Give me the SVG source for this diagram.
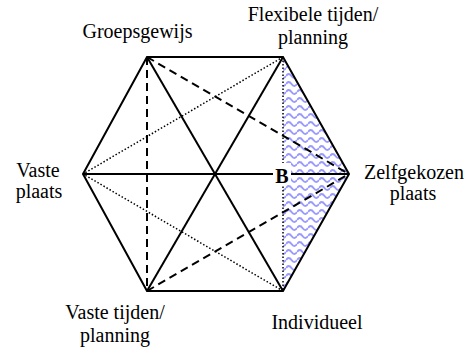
<svg xmlns="http://www.w3.org/2000/svg" width="465" height="350" viewBox="0 0 465 350">
<style>
.lbl{font-family:'Liberation Serif','Times New Roman',Times,'DejaVu Serif',serif;font-size:20px;fill:#000;text-anchor:middle}
.solid{stroke:#000;stroke-width:2;fill:none}
.dash{stroke:#000;stroke-width:2;fill:none;stroke-dasharray:8 5}
.dot{stroke:#000;stroke-width:1.5;fill:none;stroke-dasharray:1.5 2}
</style>
<defs>
<pattern id="wave" patternUnits="userSpaceOnUse" width="11" height="8">
<path d="M0 4 Q2.75 0 5.5 4 T11 4" stroke="#9a9aff" stroke-width="2" fill="none"/>
</pattern>
</defs>
<rect width="465" height="350" fill="#fff"/>
<g id="area">
<polygon points="283,57 349,174 283,291" fill="url(#wave)"/>
</g>
<g id="connectors">
<polygon class="solid" points="147,57 283,57 349,174 283,291 147,291 83,174"/>
<line class="solid" x1="83" y1="174" x2="349" y2="174"/>
<line class="solid" x1="147" y1="57" x2="283" y2="291"/>
<line class="solid" x1="283" y1="57" x2="147" y2="291"/>
<line class="dash" x1="147" y1="57" x2="147" y2="291"/>
<line class="dash" x1="147" y1="57" x2="349" y2="174"/>
<line class="dash" x1="147" y1="291" x2="349" y2="174"/>
<line class="dot" x1="283" y1="57" x2="83" y2="174"/>
<line class="dot" x1="283" y1="291" x2="83" y2="174"/>
<line class="dot" x1="283" y1="57" x2="283" y2="291"/>
</g>
<g id="B">
<rect x="273" y="163" width="18" height="22" fill="#fff"/>
<text class="lbl" x="282" y="183" font-family="Liberation Serif, serif" font-weight="bold" font-size="24">B</text>
</g>
<g id="groepsgewijs"><text class="lbl" font-family="Liberation Serif, serif" x="137.5" y="38">Groepsgewijs</text></g>
<g id="flexibele"><text class="lbl" font-family="Liberation Serif, serif" x="313" y="21">Flexibele tijden/</text><text class="lbl" font-family="Liberation Serif, serif" x="313" y="44">planning</text></g>
<g id="zelfgekozen"><text class="lbl" font-family="Liberation Serif, serif" x="414" y="179">Zelfgekozen</text><text class="lbl" font-family="Liberation Serif, serif" x="413" y="200">plaats</text></g>
<g id="vasteplaats"><text class="lbl" font-family="Liberation Serif, serif" x="38" y="177">Vaste</text><text class="lbl" font-family="Liberation Serif, serif" x="39" y="198">plaats</text></g>
<g id="vastetijden"><text class="lbl" font-family="Liberation Serif, serif" x="115" y="319">Vaste tijden/</text><text class="lbl" font-family="Liberation Serif, serif" x="115" y="342">planning</text></g>
<g id="individueel"><text class="lbl" font-family="Liberation Serif, serif" x="317" y="329">Individueel</text></g>
</svg>
